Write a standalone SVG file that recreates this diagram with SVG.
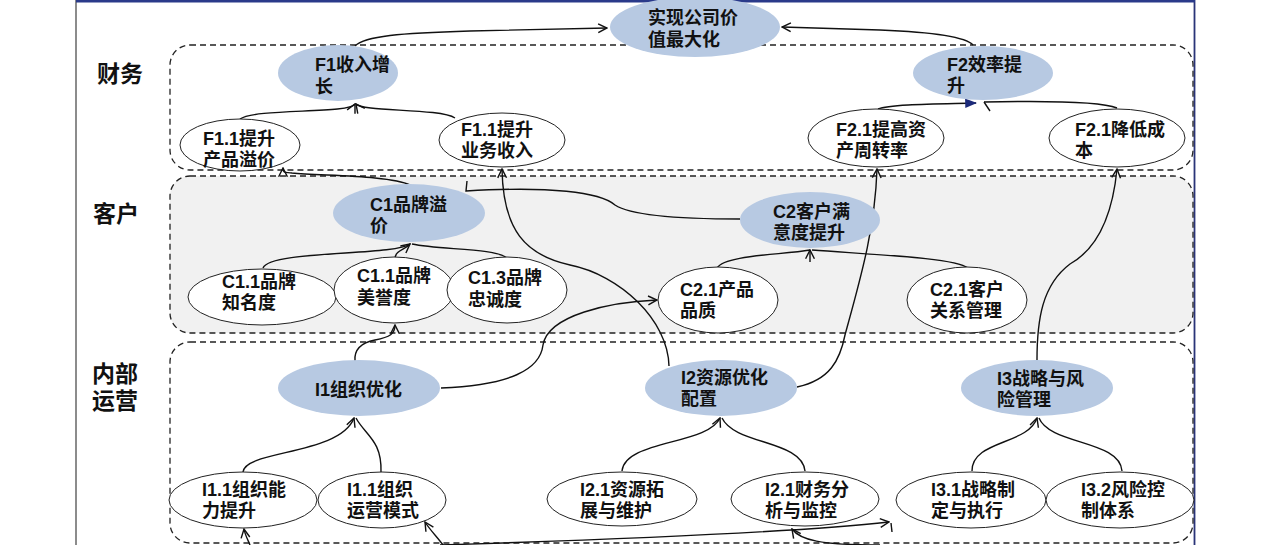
<svg xmlns="http://www.w3.org/2000/svg" width="1280" height="545" viewBox="0 0 1280 545">
<style>
.t{font-family:"Liberation Sans","Noto Sans CJK SC",sans-serif;font-weight:bold;font-size:18px;fill:#111}
.lay{font-family:"Liberation Sans","Noto Sans CJK SC",sans-serif;font-weight:bold;font-size:23px;fill:#111}
.box{fill:none;stroke:#222;stroke-width:1.3;stroke-dasharray:6 4}
.main{fill:#b7c9e2;stroke:none}
.sub{fill:#fff;stroke:#222;stroke-width:1}
.c{fill:none;stroke:#111;stroke-width:1.4}
.a{marker-end:url(#arr)}
</style>
<defs>
<marker id="arr" viewBox="0 0 10 10" refX="9" refY="5" markerWidth="11" markerHeight="11" markerUnits="userSpaceOnUse" orient="auto">
<path d="M1,1 L9,5 L1,9" fill="none" stroke="#111" stroke-width="1.3"/>
</marker>
<marker id="arrb" viewBox="0 0 10 10" refX="9" refY="5" markerWidth="12" markerHeight="12" markerUnits="userSpaceOnUse" orient="auto">
<path d="M0,1 L10,5 L0,9 Z" fill="#1c2a7a"/>
</marker>
</defs>
<rect width="1280" height="545" fill="#fff"/>
<line x1="76" y1="0" x2="76" y2="545" stroke="#666" stroke-width="1.5"/>
<line x1="1194.5" y1="0" x2="1194.5" y2="545" stroke="#2a3478" stroke-width="1.8"/>
<line x1="76" y1="1" x2="1195" y2="1" stroke="#2a3a8a" stroke-width="3"/>

<g id="layer-finance">
<rect class="box" x="170" y="45" width="1023" height="125" rx="20"/>
<text class="lay" x="97" y="82">财务</text>
</g>
<g id="layer-customer">
<rect class="box" x="170" y="176" width="1023" height="157" rx="20" style="fill:#f1f1f1"/>
<text class="lay" x="93" y="222">客户</text>
</g>
<g id="layer-internal">
<rect class="box" x="170" y="342" width="1023" height="201" rx="20"/>
<text class="lay" x="92" y="382">内部<tspan x="92" dy="27">运营</tspan></text>
</g>

<g id="connectors">
<path class="c a" d="M355,46 C365,36 400,33 470,31 L607,28"/>
<path class="c a" d="M973,45 C965,36 930,32 880,30 L782,27"/>
<path class="c a" d="M240,119 C255,108 350,114 355,104"/>
<path class="c a" d="M455,118 C440,108 362,112 356,104"/>
<path class="c" d="M878,109 C890,104 940,104 976,103" marker-end="url(#arrb)"/>
<path class="c" d="M1117,108 C1100,101 1030,101 984,102"/>
<path class="c" d="M984,102 L990,111"/>
<path class="c a" d="M410,185 C390,175 320,176 292,173 C286,172 283,174 283,168"/>
<path class="c" d="M740,219 C680,219 630,215 615,205 C600,192 550,186 466,191 L467,181"/>
<path class="c a" d="M669,366 C668,320 620,275 570,265 C525,255 503,230 502,169"/>
<path class="c a" d="M441,388 C510,385 540,370 543,345 C548,315 610,302 657,300"/>
<path class="c a" d="M355,361 C354,350 360,343 375,340 C390,337 395,334 395,325"/>
<path class="c a" d="M263,268 C270,250 395,256 410,244"/>
<path class="c" d="M395,258 C396,250 405,250 410,244"/>
<path class="c" d="M507,258 C495,248 440,250 412,244"/>
<path class="c" d="M717,268 C725,255 780,255 810,250"/>
<path class="c" d="M968,268 C955,258 880,255 812,250"/>
<path class="c a" d="M810,262 L810,250"/>
<path class="c a" d="M797,387 C830,380 840,360 845,335 C860,280 875,230 877,169"/>
<path class="c a" d="M1037,360 C1037,320 1042,285 1070,264 C1095,250 1112,220 1117,169"/>
<path class="c a" d="M243,472 C245,450 340,455 354,418"/>
<path class="c" d="M381,472 C382,440 365,435 356,418"/>
<path class="c a" d="M622,471 C625,440 708,445 720,418"/>
<path class="c" d="M805,471 C802,440 735,445 722,418"/>
<path class="c a" d="M972,471 C972,440 1028,445 1037,418"/>
<path class="c" d="M1122,471 C1120,440 1050,445 1039,418"/>
<path class="c a" d="M250,545 C248,540 245,535 244,529"/>
<path class="c a" d="M443,545 C438,538 430,530 425,522"/>
<path class="c a" d="M440,545 C600,540 800,532 889,522"/>
<path class="c" d="M891,523 L892,532"/>
<path class="c a" d="M880,545 C820,545 800,540 792,529"/>
</g>

<g id="n-top"><ellipse class="main" cx="695" cy="27" rx="85" ry="30"/><text class="t" x="648" y="24">实现公司价<tspan x="648" dy="22">值最大化</tspan></text></g>
<g id="n-f1"><ellipse class="main" cx="338" cy="73" rx="60" ry="28"/><text class="t" x="315" y="71">F1收入增<tspan x="315" dy="22">长</tspan></text></g>
<g id="n-f2"><ellipse class="main" cx="983" cy="73" rx="70" ry="27"/><text class="t" x="947" y="71">F2效率提<tspan x="947" dy="21">升</tspan></text></g>
<g id="n-f11a"><ellipse class="sub" cx="240" cy="145" rx="60" ry="26"/><text class="t" x="203" y="145">F1.1提升<tspan x="203" dy="21">产品溢价</tspan></text></g>
<g id="n-f11b"><ellipse class="sub" cx="502" cy="140" rx="63" ry="27"/><text class="t" x="461" y="136">F1.1提升<tspan x="461" dy="21">业务收入</tspan></text></g>
<g id="n-f21a"><ellipse class="sub" cx="876" cy="138" rx="68" ry="29"/><text class="t" x="836" y="136">F2.1提高资<tspan x="836" dy="21">产周转率</tspan></text></g>
<g id="n-f21b"><ellipse class="sub" cx="1117" cy="138" rx="68" ry="29"/><text class="t" x="1075" y="136">F2.1降低成<tspan x="1075" dy="21">本</tspan></text></g>
<g id="n-c1"><ellipse class="main" cx="409" cy="213" rx="76" ry="29"/><text class="t" x="370" y="211">C1品牌溢<tspan x="370" dy="21">价</tspan></text></g>
<g id="n-c2"><ellipse class="main" cx="810" cy="220" rx="70" ry="28"/><text class="t" x="773" y="218">C2客户满<tspan x="773" dy="21">意度提升</tspan></text></g>
<g id="n-c11a"><ellipse class="sub" cx="262" cy="297" rx="74" ry="28"/><text class="t" x="222" y="288">C1.1品牌<tspan x="222" dy="21">知名度</tspan></text></g>
<g id="n-c11b"><ellipse class="sub" cx="394" cy="290" rx="60" ry="33"/><text class="t" x="357" y="282">C1.1品牌<tspan x="357" dy="22">美誉度</tspan></text></g>
<g id="n-c13"><ellipse class="sub" cx="507" cy="290" rx="60" ry="33"/><text class="t" x="468" y="284">C1.3品牌<tspan x="468" dy="22">忠诚度</tspan></text></g>
<g id="n-c21a"><ellipse class="sub" cx="718" cy="300" rx="60" ry="33"/><text class="t" x="680" y="296">C2.1产品<tspan x="680" dy="21">品质</tspan></text></g>
<g id="n-c21b"><ellipse class="sub" cx="967" cy="300" rx="60" ry="33"/><text class="t" x="930" y="296">C2.1客户<tspan x="930" dy="21">关系管理</tspan></text></g>
<g id="n-i1"><ellipse class="main" cx="359" cy="388" rx="81" ry="28"/><text class="t" x="315" y="396">I1组织优化</text></g>
<g id="n-i2"><ellipse class="main" cx="721" cy="388" rx="76" ry="28"/><text class="t" x="681" y="384">I2资源优化<tspan x="681" dy="21">配置</tspan></text></g>
<g id="n-i3"><ellipse class="main" cx="1037" cy="388" rx="76" ry="28"/><text class="t" x="997" y="385">I3战略与风<tspan x="997" dy="21">险管理</tspan></text></g>
<g id="n-i11a"><ellipse class="sub" cx="243" cy="500" rx="74" ry="28"/><text class="t" x="202" y="496">I1.1组织能<tspan x="202" dy="21">力提升</tspan></text></g>
<g id="n-i11b"><ellipse class="sub" cx="382" cy="500" rx="64" ry="28"/><text class="t" x="347" y="496">I1.1组织<tspan x="347" dy="21">运营模式</tspan></text></g>
<g id="n-i21a"><ellipse class="sub" cx="622" cy="499" rx="75" ry="27"/><text class="t" x="580" y="496">I2.1资源拓<tspan x="580" dy="21">展与维护</tspan></text></g>
<g id="n-i21b"><ellipse class="sub" cx="805" cy="499" rx="74" ry="27"/><text class="t" x="765" y="496">I2.1财务分<tspan x="765" dy="21">析与监控</tspan></text></g>
<g id="n-i31"><ellipse class="sub" cx="971" cy="500" rx="75" ry="28"/><text class="t" x="931" y="496">I3.1战略制<tspan x="931" dy="21">定与执行</tspan></text></g>
<g id="n-i32"><ellipse class="sub" cx="1120" cy="500" rx="74" ry="28"/><text class="t" x="1081" y="496">I3.2风险控<tspan x="1081" dy="21">制体系</tspan></text></g>
</svg>
